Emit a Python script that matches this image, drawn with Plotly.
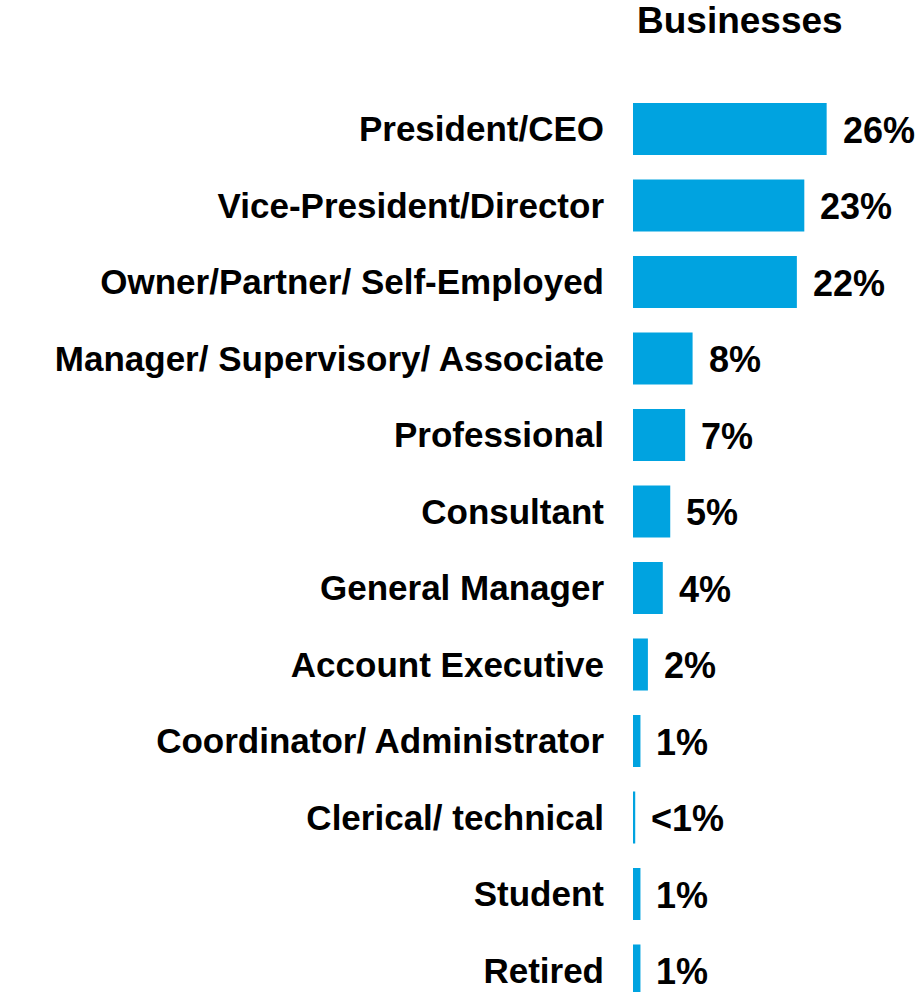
import plotly.graph_objects as go

# Job titles of business respondents (share of respondents, %)
categories = [
    "President/CEO",
    "Vice-President/Director",
    "Owner/Partner/ Self-Employed",
    "Manager/ Supervisory/ Associate",
    "Professional",
    "Consultant",
    "General Manager",
    "Account Executive",
    "Coordinator/ Administrator",
    "Clerical/ technical",
    "Student",
    "Retired",
]
values = [26, 23, 22, 8, 7, 5, 4, 2, 1, 0.3, 1, 1]
value_labels = ["26%", "23%", "22%", "8%", "7%", "5%", "4%", "2%", "1%", "<1%", "1%", "1%"]

BAR_COLOR = "#00A3E0"
FONT = "Liberation Sans"

fig = go.Figure(
    go.Bar(
        x=values,
        y=categories,
        orientation="h",
        marker=dict(color=BAR_COLOR, line=dict(width=0)),
        hoverinfo="skip",
    )
)

# Percentage labels just past the end of each bar
for cat, val, lab in zip(categories, values, value_labels):
    fig.add_annotation(
        x=val, y=cat, xref="x", yref="y",
        text=lab, showarrow=False,
        xanchor="left", yanchor="middle", xshift=14, yshift=-1,
        font=dict(family=FONT, size=36, color="black", weight="bold"),
    )

# Column heading
fig.add_annotation(
    x=0.37, y=1.042, xref="paper", yref="paper",
    text="Businesses", showarrow=False,
    xanchor="center", yanchor="middle",
    font=dict(family=FONT, size=37, color="black", weight="bold"),
)

fig.update_layout(
    width=922, height=992,
    margin=dict(l=633, r=0, t=60, b=0, pad=0),
    paper_bgcolor="white", plot_bgcolor="white",
    bargap=0.32,
    showlegend=False,
    xaxis=dict(
        range=[0, 38.8], visible=False, fixedrange=True,
    ),
    yaxis=dict(
        type="category",
        range=[11.281, -0.902],
        showgrid=False, zeroline=False, showline=False,
        ticks="", ticklabelstandoff=28,
        tickfont=dict(family=FONT, size=35, color="black", weight="bold"),
        fixedrange=True,
    ),
)

fig.write_html("out.html")
